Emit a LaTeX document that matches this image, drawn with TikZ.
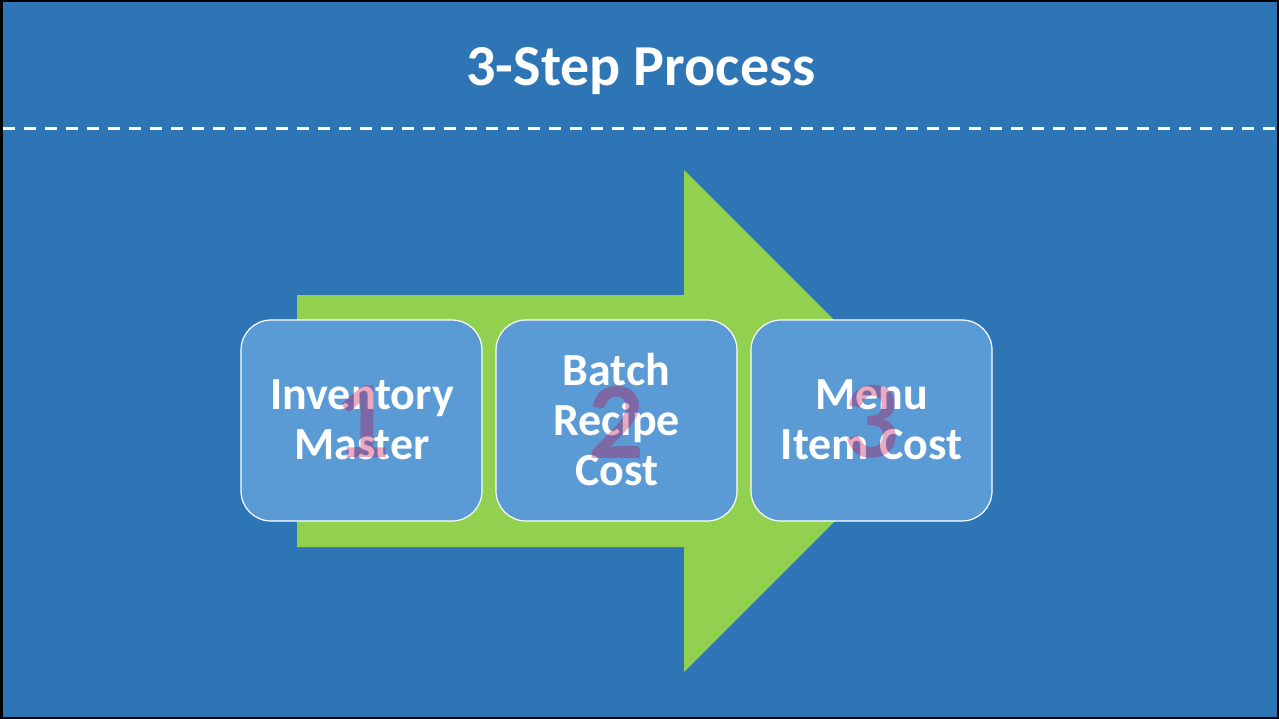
\documentclass[tikz,border=0pt]{standalone}
\usepackage{fontspec}
\setmainfont{Carlito}
\definecolor{bgblue}{RGB}{46,117,182}
\definecolor{boxblue}{RGB}{91,155,213}
\definecolor{arrowgreen}{RGB}{146,208,80}
\definecolor{numred}{RGB}{190,10,80}
\begin{document}
\begin{tikzpicture}[x=1pt,y=-1pt,
  stepbox/.style={draw=white, line width=1.2pt, fill=boxblue, rounded corners=30pt,
    minimum width=241pt, minimum height=201pt, inner sep=0pt},
  steptext/.style={text=white, font=\fontsize{46}{50}\selectfont\bfseries, align=center, inner sep=0pt},
  stepnum/.style={text=numred, text opacity=0.35, font=\fontsize{110}{110}\selectfont\bfseries, inner sep=0pt},
  titletext/.style={text=white, font=\fontsize{58}{62}\selectfont\bfseries, inner sep=0pt}]
\useasboundingbox (0,0) rectangle (1279,719);
\fill[bgblue] (0,0) rectangle (1279,719);
% dashed separator
\coordinate (dl) at (3,129);
\coordinate (dr) at (1277,129);
\draw[white, line width=3pt, dash pattern=on 12pt off 9pt] (dl) -- (dr);
% title
\node[titletext, anchor=base] (title) at (641,86) {3-Step Process};
% arrow
\fill[arrowgreen] (297,295) -- (684,295) -- (684,170) -- (935,421) -- (684,672) -- (684,547) -- (297,547) -- cycle;
% boxes
\node[stepbox] (b1) at (361.5,420.5) {};
\node[stepbox] (b2) at (616.5,420.5) {};
\node[stepbox] (b3) at (871.5,420.5) {};
% texts
\node[steptext] (t1) at (362,420) {Inventory\\Master};
\node[steptext] (t2) at (616.5,420) {Batch\\Recipe\\Cost};
\node[steptext] (t3) at (871.5,420) {Menu\\Item Cost};
% numbers
\node[stepnum] (n1) at (362,422) {1};
\node[stepnum] (n2) at (616,422) {2};
\node[stepnum] (n3) at (871,422) {3};
% frame
\draw[black, line width=2.5pt] (1.25,1.25) rectangle (1277.75,717.75);
\end{tikzpicture}
\end{document}
